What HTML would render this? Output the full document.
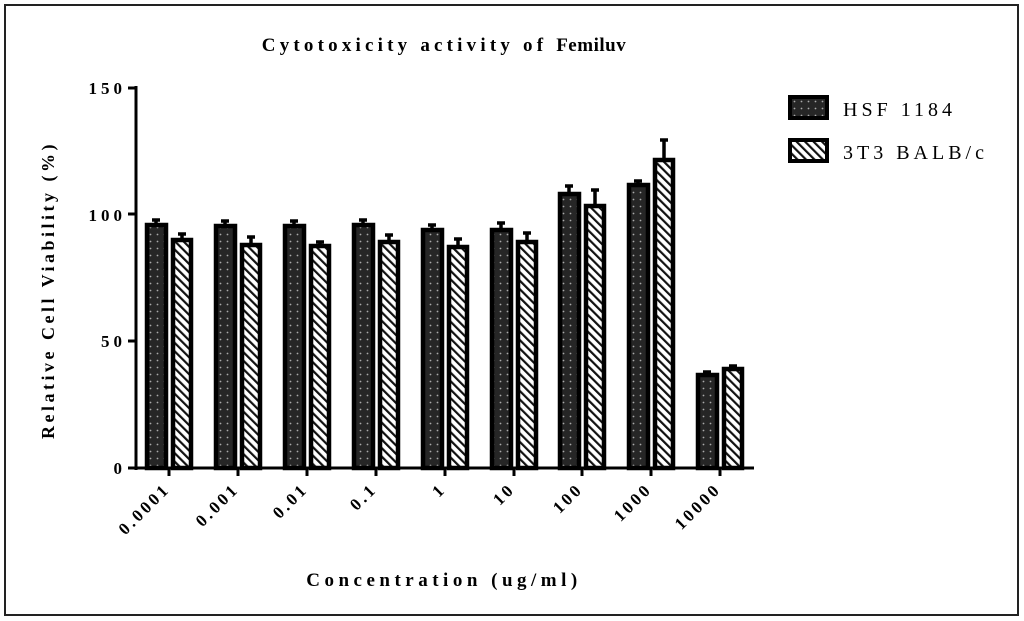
<!DOCTYPE html>
<html><head><meta charset="utf-8"><style>body{margin:0;background:#fff}svg{display:block}</style></head>
<body>
<svg width="1024" height="621" viewBox="0 0 1024 621" xmlns="http://www.w3.org/2000/svg" font-family="Liberation Serif, serif">
<defs>
<pattern id="dots" width="7" height="7" patternUnits="userSpaceOnUse">
<rect width="7" height="7" fill="#262626"/><circle cx="3.5" cy="3.5" r="0.9" fill="#aaa"/>
</pattern>
<pattern id="hatch" width="6" height="6" patternUnits="userSpaceOnUse" patternTransform="rotate(-45)">
<rect width="6" height="6" fill="#fff"/><rect x="0" y="0" width="2.2" height="6" fill="#111"/>
</pattern>
</defs>
<rect x="5" y="5" width="1013" height="610" fill="none" stroke="#222" stroke-width="2"/>
<text x="444" y="51" text-anchor="middle" font-size="19" font-weight="bold" letter-spacing="4.2">Cytotoxicity activity of <tspan letter-spacing="0.5">Femiluv</tspan></text>
<g font-size="17" font-weight="bold" text-anchor="end" letter-spacing="4">
<text x="126" y="94">150</text><text x="126" y="221">100</text><text x="126" y="347">50</text><text x="126" y="474">0</text>
</g>
<text transform="translate(54,290) rotate(-90)" text-anchor="middle" font-size="18" font-weight="bold" letter-spacing="3.5">Relative Cell Viability (%)</text>
<text x="444" y="586" text-anchor="middle" font-size="19" font-weight="bold" letter-spacing="4.5">Concentration (ug/ml)</text>
<g stroke="#000" stroke-width="3" fill="none">
<line x1="136" y1="86" x2="136" y2="470"/>
<line x1="134" y1="468" x2="754" y2="468"/>
<line x1="128" y1="88" x2="136" y2="88"/><line x1="128" y1="214" x2="136" y2="214"/><line x1="128" y1="341" x2="136" y2="341"/><line x1="128" y1="468" x2="136" y2="468"/>
<line x1="169" y1="468" x2="169" y2="476"/><line x1="238" y1="468" x2="238" y2="476"/><line x1="307" y1="468" x2="307" y2="476"/><line x1="376" y1="468" x2="376" y2="476"/><line x1="445" y1="468" x2="445" y2="476"/><line x1="514" y1="468" x2="514" y2="476"/><line x1="582" y1="468" x2="582" y2="476"/><line x1="651" y1="468" x2="651" y2="476"/><line x1="720" y1="468" x2="720" y2="476"/>
</g>
<g stroke="#000" stroke-width="3.5">
<path d="M156 223V220M152 220H160M182 238V234M178 234H186
M225 224V221M221 221H229M251 243V237M247 237H255
M294 224V221M290 221H298M320 244V242M316 242H324
M363 223V220M359 220H367M389 240V235M385 235H393
M432 228V225M428 225H436M458 245V239M454 239H462
M501 228V223M497 223H505M527 240V233M523 233H531
M569 192V186M565 186H573M595 204V190M591 190H599
M638 183V181M634 181H642M664 158V140M660 140H668
M707 373V372M703 372H711M733 367V366M729 366H737"/>
</g>
<g stroke="#000" stroke-width="4.5">
<rect x="147" y="225" width="19" height="243" fill="url(#dots)"/><rect x="173" y="240" width="18" height="228" fill="url(#hatch)"/>
<rect x="216" y="226" width="19" height="242" fill="url(#dots)"/><rect x="242" y="245" width="18" height="223" fill="url(#hatch)"/>
<rect x="285" y="226" width="19" height="242" fill="url(#dots)"/><rect x="311" y="246" width="18" height="222" fill="url(#hatch)"/>
<rect x="354" y="225" width="19" height="243" fill="url(#dots)"/><rect x="380" y="242" width="18" height="226" fill="url(#hatch)"/>
<rect x="423" y="230" width="19" height="238" fill="url(#dots)"/><rect x="449" y="247" width="18" height="221" fill="url(#hatch)"/>
<rect x="492" y="230" width="19" height="238" fill="url(#dots)"/><rect x="518" y="242" width="18" height="226" fill="url(#hatch)"/>
<rect x="560" y="194" width="19" height="274" fill="url(#dots)"/><rect x="586" y="206" width="18" height="262" fill="url(#hatch)"/>
<rect x="629" y="185" width="19" height="283" fill="url(#dots)"/><rect x="655" y="160" width="18" height="308" fill="url(#hatch)"/>
<rect x="698" y="375" width="19" height="93" fill="url(#dots)"/><rect x="724" y="369" width="18" height="99" fill="url(#hatch)"/>
</g>
<g font-size="17" font-weight="bold" letter-spacing="3" text-anchor="end">
<text transform="translate(171,490) rotate(-45)">0.0001</text>
<text transform="translate(240,490) rotate(-45)">0.001</text>
<text transform="translate(309,490) rotate(-45)">0.01</text>
<text transform="translate(378,490) rotate(-45)">0.1</text>
<text transform="translate(447,490) rotate(-45)">1</text>
<text transform="translate(516,490) rotate(-45)">10</text>
<text transform="translate(584,490) rotate(-45)">100</text>
<text transform="translate(653,490) rotate(-45)">1000</text>
<text transform="translate(722,490) rotate(-45)">10000</text>
</g>
<rect x="790" y="97" width="37" height="21" fill="url(#dots)" stroke="#000" stroke-width="4"/>
<rect x="790" y="140" width="37" height="21" fill="url(#hatch)" stroke="#000" stroke-width="4"/>
<g font-size="20" letter-spacing="4"><text x="843" y="116">HSF 1184</text><text x="843" y="159">3T3 BALB/c</text></g>
</svg>
</body></html>
